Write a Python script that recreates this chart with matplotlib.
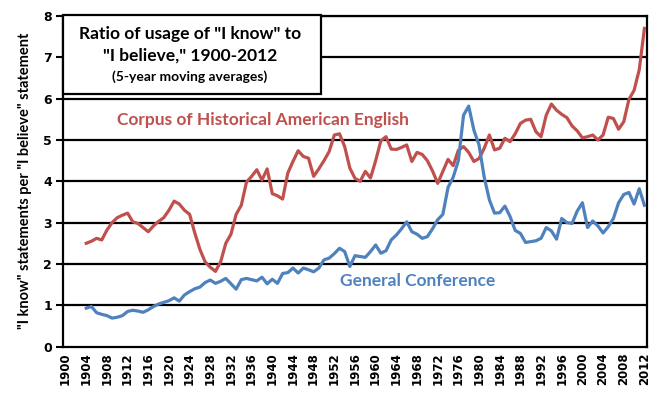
import matplotlib.pyplot as plt
from matplotlib.patches import Rectangle

# 5-year moving averages, 1904-2012
coha = [2.50, 2.55, 2.62, 2.58, 2.82, 3.00, 3.12, 3.18, 3.23, 3.02,
        2.98, 2.88, 2.78, 2.92, 3.03, 3.12, 3.30, 3.52, 3.45, 3.30,
        3.20, 2.75, 2.35, 2.05, 1.92, 1.82, 2.05, 2.50, 2.72, 3.20,
        3.42, 3.98, 4.12, 4.28, 4.03, 4.30, 3.70, 3.65, 3.57, 4.20,
        4.48, 4.74, 4.60, 4.56, 4.12, 4.30, 4.50, 4.72, 5.12, 5.15,
        4.84, 4.32, 4.07, 4.00, 4.24, 4.08, 4.50, 4.98, 5.08, 4.78,
        4.77, 4.82, 4.88, 4.48, 4.70, 4.65, 4.50, 4.25, 3.95, 4.24,
        4.53, 4.38, 4.75, 4.84, 4.70, 4.48, 4.55, 4.80, 5.12, 4.76,
        4.80, 5.04, 4.96, 5.15, 5.40, 5.48, 5.50, 5.20, 5.08, 5.60,
        5.87, 5.72, 5.62, 5.54, 5.34, 5.22, 5.05, 5.08, 5.12, 5.00,
        5.12, 5.55, 5.52, 5.26, 5.44, 5.98, 6.20, 6.70, 7.70]

general_conf = [0.93, 0.97, 0.82, 0.78, 0.75, 0.69, 0.71, 0.75, 0.85, 0.88,
                0.86, 0.83, 0.89, 0.97, 1.03, 1.07, 1.11, 1.18, 1.10, 1.25,
                1.33, 1.40, 1.44, 1.55, 1.61, 1.53, 1.58, 1.65, 1.52, 1.39,
                1.62, 1.65, 1.62, 1.59, 1.68, 1.52, 1.63, 1.53, 1.77, 1.79,
                1.90, 1.78, 1.90, 1.86, 1.81, 1.90, 2.10, 2.14, 2.25, 2.38,
                2.30, 1.94, 2.20, 2.18, 2.16, 2.30, 2.46, 2.26, 2.32, 2.58,
                2.70, 2.85, 3.02, 2.78, 2.72, 2.62, 2.66, 2.85, 3.07, 3.20,
                3.85, 4.10, 4.50, 5.60, 5.82, 5.24, 4.88, 4.10, 3.55, 3.23,
                3.24, 3.40, 3.15, 2.81, 2.74, 2.52, 2.54, 2.56, 2.62, 2.88,
                2.80, 2.60, 3.10, 3.00, 2.98, 3.28, 3.48, 2.88, 3.04, 2.92,
                2.75, 2.90, 3.10, 3.48, 3.68, 3.73, 3.45, 3.82, 3.42]

years = list(range(1904, 1904 + len(coha)))
tick_years = list(range(1900, 2013, 4))

red = '#C0504D'
blue = '#4F81BD'

fig = plt.figure(figsize=(6.64, 3.99), dpi=100)
ax = fig.add_axes([63 / 664, 1 - 346.6 / 399, 584 / 664, 330.6 / 399])

ax.plot(years, coha, color=red, lw=2.3, zorder=3)
ax.plot(years, general_conf, color=blue, lw=2.3, zorder=3)

ax.set_xlim(1899.5, 2012.5)
ax.set_ylim(0, 8)
ax.set_yticks(range(0, 9))
ax.set_xticks(tick_years)
ax.set_xticklabels([str(y) for y in tick_years], rotation=90,
                   fontsize=8.5, fontweight='bold')
ax.tick_params(axis='x', length=0, pad=4)
ax.tick_params(axis='y', length=5, width=1.5, labelsize=9, pad=3)
for lbl in ax.get_yticklabels():
    lbl.set_fontweight('bold')

for v in range(1, 9):
    ax.axhline(v, color='black', lw=1.6, zorder=1)
for s in ax.spines.values():
    s.set_linewidth(1.6)

ax.set_ylabel('"I know" statements per "I believe" statement',
              fontsize=10.5, fontweight='bold', family='Lato', labelpad=8)

# series labels
ax.text(1909.9, 5.49, 'Corpus of Historical American English', color=red,
        fontsize=12.5, fontweight='bold', family='Lato', va='center', zorder=4)
ax.text(1953.1, 1.59, 'General Conference', color=blue,
        fontsize=12.5, fontweight='bold', family='Lato', va='center', zorder=4)

# title box
fig.patches.append(Rectangle((63 / 664, 1 - 94 / 399), 258 / 664, 79 / 399,
                             transform=fig.transFigure, facecolor='white',
                             edgecolor='black', lw=1.6, zorder=5))
fig.text(190 / 664, 1 - 34 / 399, 'Ratio of usage of "I know" to',
         ha='center', va='center', fontsize=12.5, fontweight='bold',
         family='Lato', zorder=6)
fig.text(190 / 664, 1 - 56 / 399, '"I believe," 1900-2012',
         ha='center', va='center', fontsize=12.5, fontweight='bold',
         family='Lato', zorder=6)
fig.text(190 / 664, 1 - 77 / 399, '(5-year moving averages)',
         ha='center', va='center', fontsize=10, fontweight='bold',
         family='Lato', zorder=6)

fig.savefig('out.png', dpi=100)
